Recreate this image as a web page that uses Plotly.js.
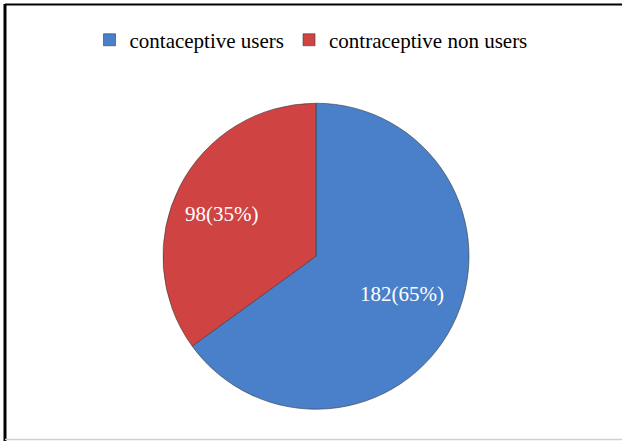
<!DOCTYPE html>
<html>
<head>
<meta charset="utf-8">
<script src="https://cdn.plot.ly/plotly-3.0.1.min.js"></script>
<style>
html,body{margin:0;padding:0;background:#fff;}
#chart{width:622px;height:441px;}
</style>
</head>
<body>
<div id="chart"></div>
<script>
const categories = ["contaceptive users", "contraceptive non users"];
const counts = [182, 98];
const percents = [65, 35];
const colors = ["#4a7fc9", "#cf4442"];

const labelsText = counts.map((c, i) => c + "(" + percents[i] + "%)");

const W = 622, H = 441;
const domX = [0.262, 0.754], domY = [0.072, 0.766];

const trace = {
  type: "pie",
  labels: categories,
  values: counts,
  text: labelsText,
  textinfo: "none",
  sort: false,
  direction: "clockwise",
  rotation: 0,
  marker: {colors: colors, line: {color: "#3a3a3a", width: 0.6}},
  domain: {x: domX, y: domY},
  hoverinfo: "label+value+percent"
};

// label annotations placed along each slice's mid-angle, computed from the data
const total = counts.reduce((a, b) => a + b, 0);
const cx = (domX[0] + domX[1]) / 2 * W, cy = (1 - (domY[0] + domY[1]) / 2) * H;
const R = Math.min((domX[1] - domX[0]) * W, (domY[1] - domY[0]) * H) / 2;
const radFrac = [0.63, 0.69];
const yNudge = [6, -6];
let cum = 0;
const annotations = counts.map((v, i) => {
  const mid = (cum + v / 2) / total * 2 * Math.PI; // clockwise from 12 o'clock
  cum += v;
  const px = cx + Math.sin(mid) * R * radFrac[i];
  const py = cy - Math.cos(mid) * R * radFrac[i];
  return {
    xref: "paper", yref: "paper", x: px / W, y: 1 - py / H,
    xanchor: "center", yanchor: "middle", showarrow: false,
    yshift: yNudge[i],
    text: labelsText[i],
    font: {family: "Liberation Serif, Times New Roman, serif", size: 21, color: "#ffffff"}
  };
});

const layout = {
  width: W,
  height: H,
  margin: {l: 0, r: 0, t: 0, b: 0},
  paper_bgcolor: "#ffffff",
  showlegend: true,
  legend: {
    orientation: "h",
    x: 0.5, xanchor: "center",
    y: 0.909, yanchor: "middle",
    font: {family: "Liberation Serif, Times New Roman, serif", size: 21, color: "#000000"},
    itemwidth: 30,
    tracegroupgap: 0
  },
  annotations: annotations,
  shapes: [
    {type: "line", xref: "paper", yref: "paper", x0: 5/622, x1: 1, y0: 1 - 4.5/441, y1: 1 - 4.5/441, line: {color: "#000000", width: 2}},
    {type: "line", xref: "paper", yref: "paper", x0: 5/622, x1: 5/622, y0: 1 - 4/441, y1: 0, line: {color: "#000000", width: 3}},
    {type: "line", xref: "paper", yref: "paper", x0: 5/622, x1: 1, y0: 1.5/441, y1: 1.5/441, line: {color: "#d0d0d0", width: 1.5}}
  ]
};

Plotly.newPlot("chart", [trace], layout, {displayModeBar: false, staticPlot: true});
</script>
</body>
</html>
